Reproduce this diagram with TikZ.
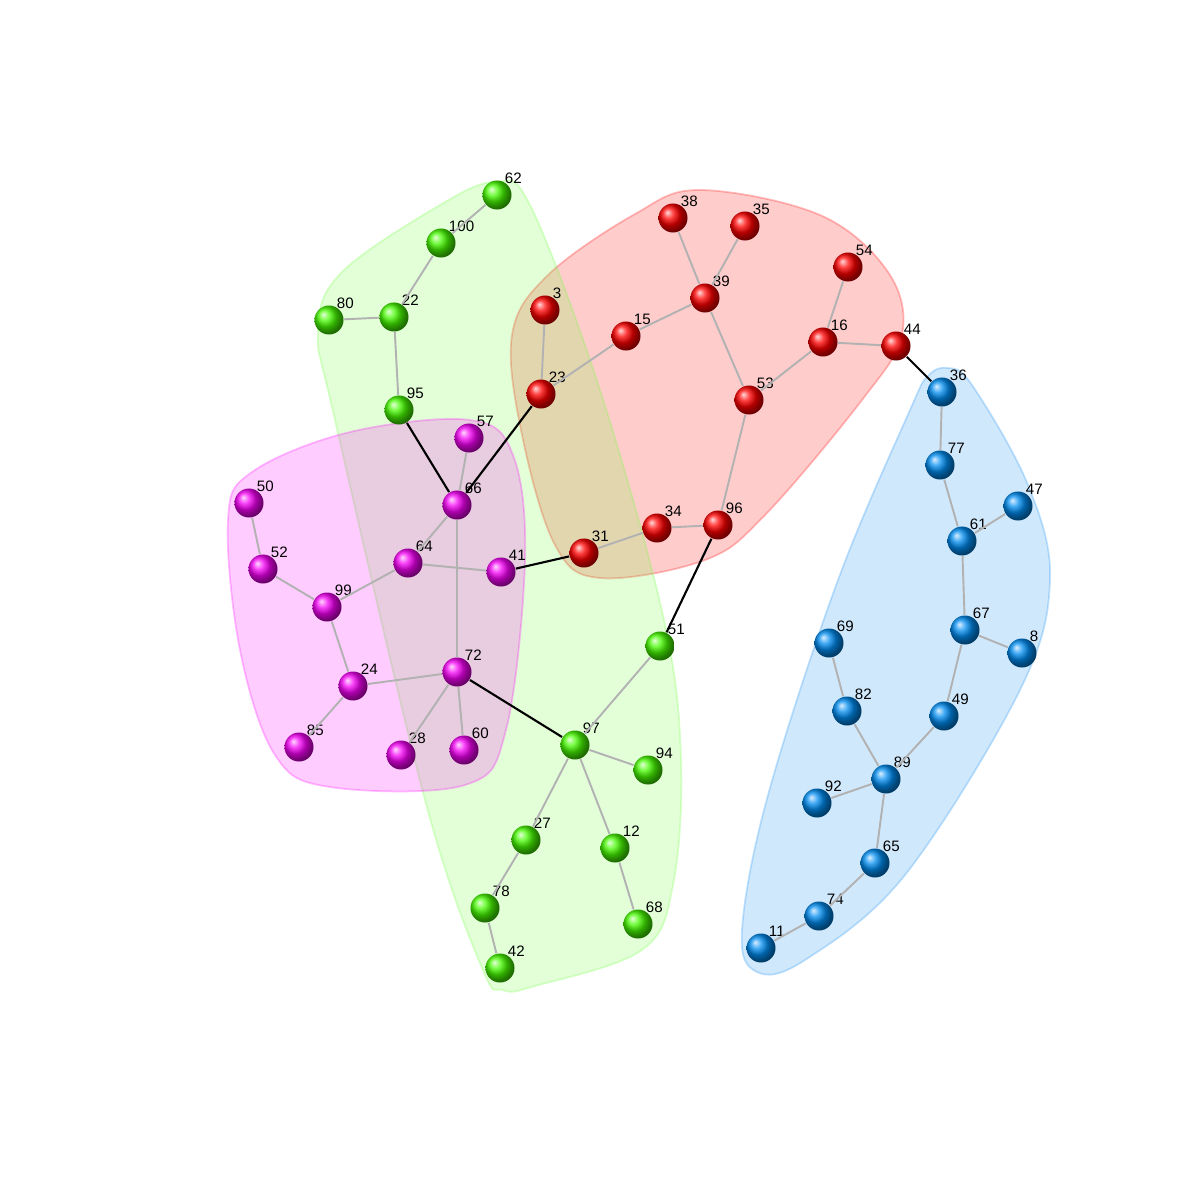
\documentclass[tikz,border=0pt]{standalone}
\usepackage{fontspec}
\setmainfont{Liberation Sans}
\definecolor{ballgreen}{RGB}{70,250,0}
\definecolor{ballred}{RGB}{255,0,0}
\definecolor{ballmag}{RGB}{245,0,245}
\definecolor{ballblue}{RGB}{0,140,240}
\definecolor{hullgreen}{RGB}{110,255,60}
\definecolor{hullred}{RGB}{255,0,0}
\definecolor{hullmag}{RGB}{255,0,255}
\definecolor{hullblue}{RGB}{20,140,240}
\tikzset{
    ball/.style={circle, minimum size=0.29cm, inner sep=0pt, shading=ball},
    lbl/.style={font=\fontsize{4.3}{5}\selectfont, inner sep=0pt, xshift=-0.035cm},
    inedge/.style={draw=gray!60, line width=0.55pt},
    outedge/.style={draw=black, line width=0.6pt},
    hull/.style={fill=#1, fill opacity=0.2, draw=#1, draw opacity=0.25, line width=0.5pt}
}

\begin{document}
\begin{tikzpicture}[x=0.01cm, y=-0.01cm]

\useasboundingbox (0,0) rectangle (1200,1200);

% Group hulls
\path[hull=hullred] plot[smooth cycle, tension=0.6] coordinates {
    (700,190) (820,215) (888,272) (902,335) (862,400) (765,515) (705,560)
    (600,578) (555,545) (522,435) (512,335) (548,275) (635,214)};
\path[hull=hullgreen] plot[smooth cycle, tension=0.6] coordinates {
    (495,182) (530,205) (600,390) (664,620) (681,760) (673,885) (642,950)
    (535,986) (503,990) (482,968) (425,800) (335,420) (318,330) (342,272)
    (440,205)};
\path[hull=hullmag] plot[smooth cycle, tension=0.6] coordinates {
    (470,420) (513,455) (525,560) (506,730) (465,785) (330,787) (275,755)
    (240,650) (228,520) (252,472) (350,432)};
\path[hull=hullblue] plot[smooth cycle, tension=0.6] coordinates {
    (948,368) (972,385) (1028,485) (1050,580) (1020,690) (905,875)
    (805,960) (757,972) (742,930) (768,795) (838,580) (910,410) (928,376)};

% Vertices
\foreach \n/\x/\y in {62/497/195, 100/441/243, 22/394/317, 80/329/320,
    95/399/410, 51/660/646, 97/575/745, 94/648/770, 27/526/840, 12/615/848,
    78/485/908, 42/500/968, 68/638/924}
    \node[ball, ball color=ballgreen, label={[lbl]45:\n}] (v\n) at (\x,\y) {};
\foreach \n/\x/\y in {38/673/218, 35/745/226, 54/848/267, 39/705/298,
    3/545/310, 15/626/336, 16/823/342, 44/896/346, 23/541/394, 53/749/400,
    34/657/528, 96/718/525, 31/584/553}
    \node[ball, ball color=ballred, label={[lbl]45:\n}] (v\n) at (\x,\y) {};
\foreach \n/\x/\y in {57/469/438, 66/457/505, 50/249/503, 52/263/569,
    64/408/563, 41/501/572, 99/327/607, 72/457/672, 24/353/686, 85/299/747,
    28/401/755, 60/464/750}
    \node[ball, ball color=ballmag, label={[lbl]45:\n}] (v\n) at (\x,\y) {};
\foreach \n/\x/\y in {36/942/392, 77/940/465, 47/1018/506, 61/962/541,
    67/965/630, 8/1022/653, 69/829/643, 82/847/711, 49/944/716, 89/886/779,
    92/817/803, 65/875/863, 74/819/916, 11/761/948}
    \node[ball, ball color=ballblue, label={[lbl]45:\n}] (v\n) at (\x,\y) {};

% Edges inside groups
\foreach \a/\b in {62/100, 100/22, 22/80, 22/95, 51/97, 97/94, 97/27,
    97/12, 27/78, 78/42, 12/68,
    38/39, 35/39, 39/15, 39/53, 15/23, 3/23, 54/16, 16/44, 16/53, 53/96,
    96/34, 34/31,
    57/66, 66/64, 66/72, 64/41, 64/99, 50/52, 52/99, 99/24, 24/72, 24/85,
    72/28, 72/60,
    36/77, 77/61, 61/47, 61/67, 67/8, 67/49, 69/82, 82/89, 49/89, 89/92,
    89/65, 65/74, 74/11}
    \draw[inedge] (v\a) -- (v\b);

% Edges between groups
\foreach \a/\b in {95/66, 23/66, 41/31, 96/51, 72/97, 44/36}
    \draw[outedge] (v\a) -- (v\b);

\end{tikzpicture}
\end{document}
